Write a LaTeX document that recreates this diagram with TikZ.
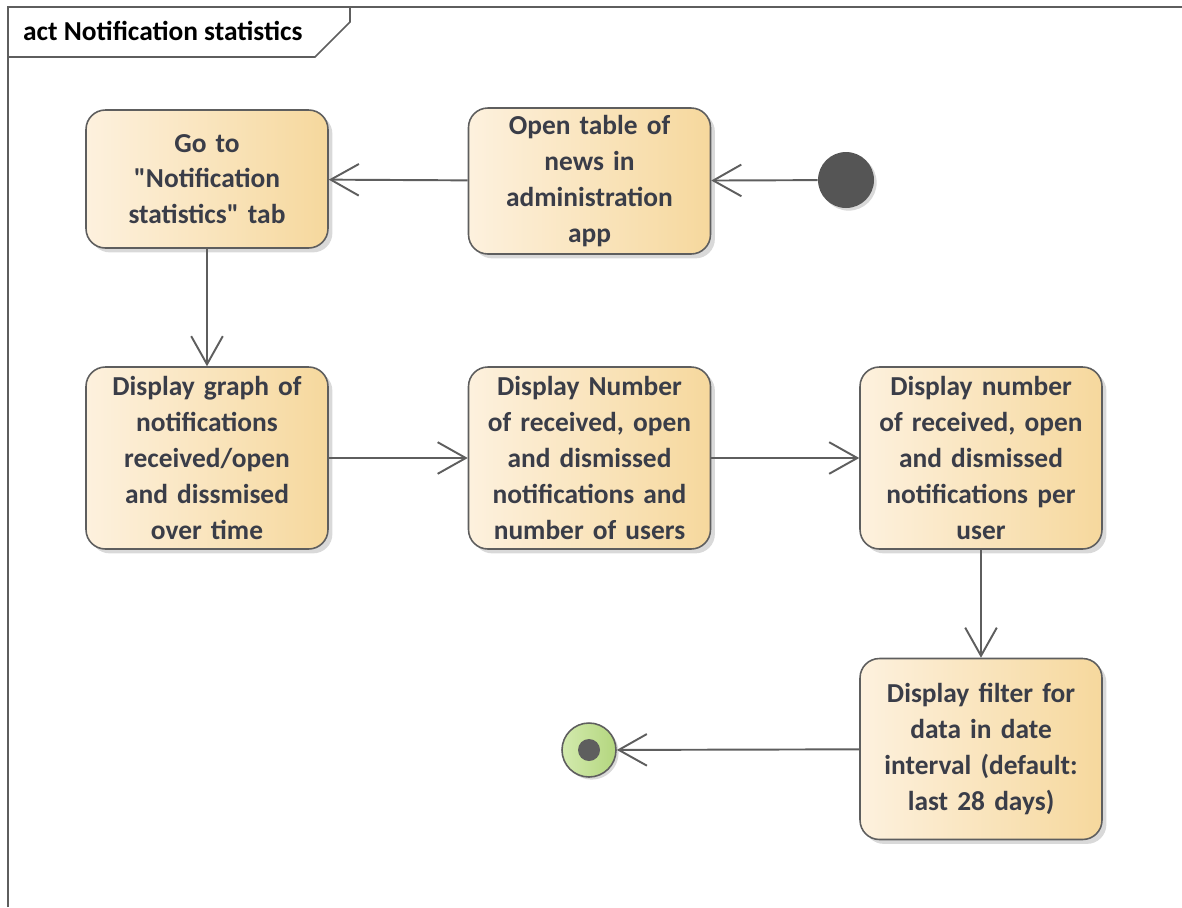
\documentclass[tikz,border=0pt]{standalone}
\usepackage{fontspec}
\setmainfont[Ligatures=TeXOff]{Carlito}
\usetikzlibrary{arrows.meta,shadows}
\definecolor{actline}{HTML}{5E5E5E}
\definecolor{acttext}{HTML}{3A3D48}
\definecolor{actleft}{HTML}{FDF1DE}
\definecolor{actright}{HTML}{F6D89D}
\definecolor{finleft}{HTML}{D3EAAE}
\definecolor{finright}{HTML}{B3D67E}

\begin{document}
\begin{tikzpicture}[x=0.02cm,y=-0.02cm]
\tikzset{act/.style={rectangle,rounded corners=11pt,draw=actline,line width=0.9pt,
           left color=actleft,right color=actright,minimum width=4.84cm,
           text width=4.3cm,align=center,text=acttext,
           font=\fontsize{15.6}{20.4}\selectfont\bfseries,
           drop shadow={shadow xshift=2.5pt,shadow yshift=-2.5pt,opacity=0.3}},
         flow/.style={draw=actline,line width=1.1pt,-{Straight Barb[length=16pt,width=18pt,line width=1.1pt]}},
         init/.style={circle,fill=actline!90!black,minimum size=1.12cm,inner sep=0pt,
           drop shadow={shadow xshift=1.5pt,shadow yshift=-1.5pt,opacity=0.3}},
         fin/.style={circle,draw=actline,line width=0.9pt,left color=finleft,right color=finright,
           minimum size=1.08cm,inner sep=0pt,
           drop shadow={shadow xshift=1.5pt,shadow yshift=-1.5pt,opacity=0.3}},
         dot/.style={circle,fill=actline,minimum size=0.44cm,inner sep=0pt}}
\useasboundingbox (0,0) rectangle (1182,907);
\draw[actline,line width=0.9pt] (8,907) -- (8,7) -- (1182,7);
\draw[actline,line width=0.9pt,fill=white] (8,7) -- (350,7) -- (350,22) -- (315,57) -- (8,57) -- cycle;
\node[anchor=west,text=black,font=\fontsize{15.6}{20}\selectfont\bfseries] (title) at (17,31) {act Notification statistics};

\node[act,minimum height=2.76cm] (goto) at (207,179) {Go to\\"Notification\\statistics" tab};
\node[act,minimum height=2.92cm] (open) at (589.5,181) {Open table of\\news in\\administration\\app};
\node[init] (start) at (846,180) {};
\node[act,minimum height=3.64cm] (graph) at (207,458) {Display graph of\\notifications\\received/open\\and dissmised\\over time};
\node[act,minimum height=3.64cm] (count) at (589.5,458) {Display Number\\of received, open\\and dismissed\\notifications and\\number of users};
\node[act,minimum height=3.64cm] (peruser) at (981,458) {Display number\\of received, open\\and dismissed\\notifications per\\user};
\node[act,minimum height=3.62cm] (filter) at (981,749) {Display filter for\\data in date\\interval (default:\\last 28 days)};
\node[fin] (end) at (589,750) {};
\node[dot] at (end) {};

\draw[flow] (start) -- (open);
\draw[flow] (open) -- (goto);
\draw[flow] (goto) -- (graph);
\draw[flow] (graph) -- (count);
\draw[flow] (count) -- (peruser);
\draw[flow] (peruser) -- (filter);
\draw[flow] (filter) -- (end);
\end{tikzpicture}
\end{document}
